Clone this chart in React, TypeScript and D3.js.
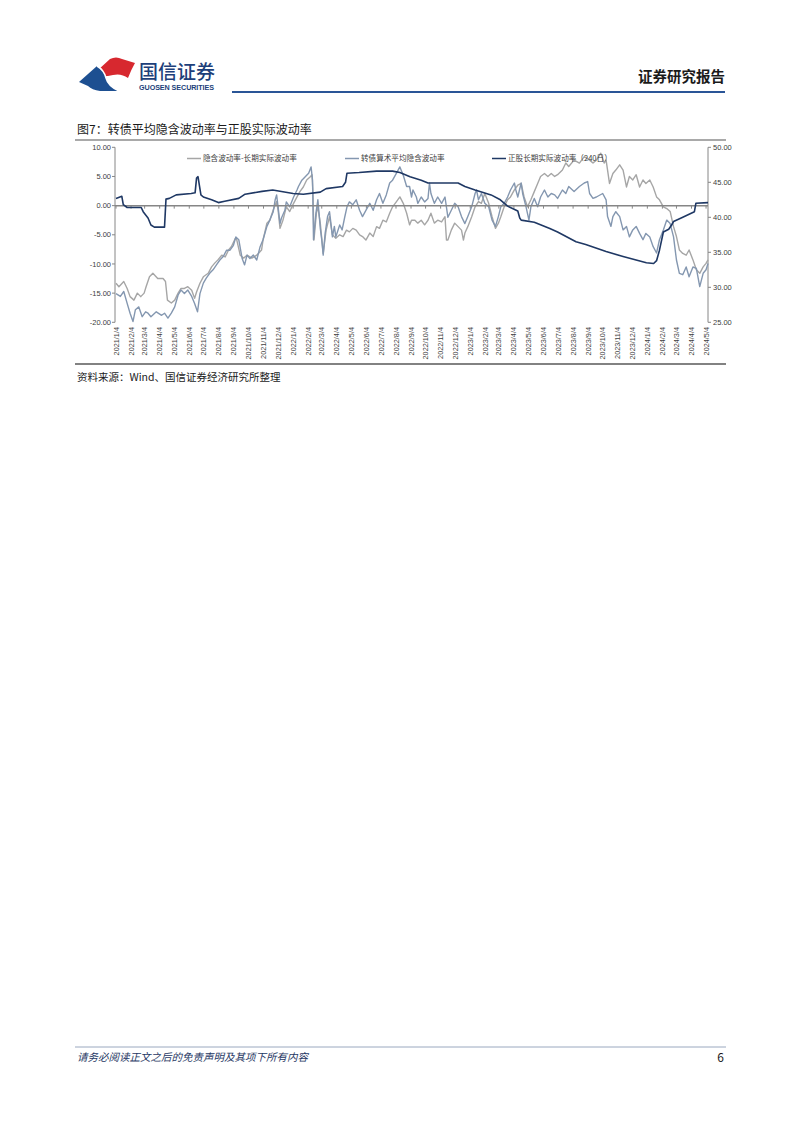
import React from "react";
import * as d3 from "d3";

// ---------- DATA ----------
const xTickLabels = [
  "2021/1/4","2021/2/4","2021/3/4","2021/4/4","2021/5/4","2021/6/4","2021/7/4","2021/8/4","2021/9/4","2021/10/4","2021/11/4","2021/12/4",
  "2022/1/4","2022/2/4","2022/3/4","2022/4/4","2022/5/4","2022/6/4","2022/7/4","2022/8/4","2022/9/4","2022/10/4","2022/11/4","2022/12/4",
  "2023/1/4","2023/2/4","2023/3/4","2023/4/4","2023/5/4","2023/6/4","2023/7/4","2023/8/4","2023/9/4","2023/10/4","2023/11/4","2023/12/4",
  "2024/1/4","2024/2/4","2024/3/4","2024/4/4","2024/5/4",
];
const leftTicks = [10, 5, 0, -5, -10, -15, -20];
const rightTicks = [50, 45, 40, 35, 30, 25];

const seriesNames = ["隐含波动率-长期实际波动率", "转债算术平均隐含波动率", "正股长期实际波动率（240日）"];

// 隐含波动率-长期实际波动率 (left axis)
const spreadSeries: [string, number][] = [
  ["2021-01-04",-13.3],["2021-01-10",-13.9],["2021-01-20",-13.0],["2021-01-27",-14.2],["2021-02-02",-15.6],["2021-02-10",-16.2],
  ["2021-02-17",-15.0],["2021-02-24",-15.6],["2021-03-03",-15.0],["2021-03-07",-13.9],["2021-03-14",-12.2],["2021-03-21",-11.6],
  ["2021-03-31",-12.5],["2021-04-11",-12.5],["2021-04-16",-13.0],["2021-04-20",-16.2],["2021-04-28",-16.7],["2021-05-05",-16.2],
  ["2021-05-12",-15.0],["2021-05-18",-14.2],["2021-05-25",-14.2],["2021-06-01",-13.9],["2021-06-09",-14.5],["2021-06-15",-15.9],
  ["2021-06-19",-14.8],["2021-06-26",-13.3],["2021-07-03",-12.2],["2021-07-13",-11.6],["2021-07-20",-10.5],["2021-07-26",-9.9],
  ["2021-08-02",-9.3],["2021-08-10",-8.5],["2021-08-17",-8.8],["2021-08-24",-7.6],["2021-08-30",-7.0],["2021-09-07",-5.6],
  ["2021-09-10",-5.9],["2021-09-17",-8.5],["2021-09-24",-9.0],["2021-10-01",-8.5],["2021-10-11",-9.0],["2021-10-21",-8.5],
  ["2021-10-31",-7.6],["2021-11-03",-5.9],["2021-11-11",-3.0],["2021-11-17",-2.5],["2021-11-24",-0.75],["2021-12-01",0.7],
  ["2021-12-04",-0.75],["2021-12-08",-3.9],["2021-12-14",-2.5],["2021-12-21",-0.2],["2021-12-28",-1.0],["2022-01-05",0.4],
  ["2022-01-12",1.5],["2022-01-18",2.4],["2022-01-25",3.2],["2022-02-01",4.4],["2022-02-09",5.0],["2022-02-12",5.3],
  ["2022-02-14",2.1],["2022-02-16",-5.9],["2022-02-21",-1.3],["2022-02-24",-0.2],["2022-03-01",-3.0],["2022-03-07",-8.2],
  ["2022-03-13",-4.2],["2022-03-20",-1.9],["2022-03-26",-5.0],["2022-04-02",-5.6],["2022-04-10",-5.0],["2022-04-17",-5.3],
  ["2022-04-24",-4.2],["2022-04-30",-4.5],["2022-05-07",-3.9],["2022-05-14",-4.2],["2022-05-21",-5.0],["2022-05-27",-5.3],
  ["2022-06-03",-5.9],["2022-06-11",-4.7],["2022-06-18",-5.3],["2022-06-25",-3.6],["2022-07-01",-3.9],["2022-07-08",-2.5],
  ["2022-07-15",-2.8],["2022-07-22",-1.3],["2022-07-28",-0.2],["2022-08-05",0.7],["2022-08-12",1.5],["2022-08-19",0.4],
  ["2022-08-26",-1.3],["2022-09-01",-3.3],["2022-09-05",-2.5],["2022-09-12",-2.5],["2022-09-18",-3.0],["2022-09-25",-2.5],
  ["2022-10-02",-3.3],["2022-10-09",-2.5],["2022-10-15",-1.3],["2022-10-22",-3.0],["2022-10-29",-2.5],["2022-11-06",-2.8],
  ["2022-11-13",-1.9],["2022-11-16",-5.9],["2022-11-19",-5.9],["2022-11-26",-4.2],["2022-12-03",-3.0],["2022-12-10",-3.6],
  ["2022-12-17",-4.2],["2022-12-21",-5.9],["2022-12-24",-4.7],["2022-12-30",-3.6],["2023-01-07",-1.9],["2023-01-14",-0.2],
  ["2023-01-21",0.7],["2023-01-27",0.4],["2023-02-03",2.1],["2023-02-11",0.4],["2023-02-18",-1.9],["2023-02-25",-3.9],
  ["2023-03-03",-3.0],["2023-03-08",-1.9],["2023-03-15",-0.2],["2023-03-22",1.0],["2023-03-28",1.5],["2023-04-05",2.7],
  ["2023-04-12",3.5],["2023-04-19",3.8],["2023-04-25",1.5],["2023-05-02",-0.2],["2023-05-09",1.0],["2023-05-16",2.4],
  ["2023-05-23",3.8],["2023-05-29",5.0],["2023-06-06",5.5],["2023-06-13",5.0],["2023-06-20",5.5],["2023-06-27",5.0],
  ["2023-07-03",5.3],["2023-07-13",6.1],["2023-07-20",7.3],["2023-07-26",6.7],["2023-08-06",7.8],["2023-08-17",7.3],
  ["2023-08-27",8.4],["2023-09-07",7.8],["2023-09-14",7.3],["2023-09-21",7.8],["2023-09-30",9.0],["2023-10-07",7.3],
  ["2023-10-11",7.8],["2023-10-18",3.8],["2023-10-25",5.5],["2023-10-31",6.1],["2023-11-08",7.0],["2023-11-15",6.1],
  ["2023-11-22",3.2],["2023-11-28",5.0],["2023-12-05",4.4],["2023-12-12",5.3],["2023-12-19",3.2],["2023-12-26",4.4],
  ["2024-01-01",3.8],["2024-01-09",4.4],["2024-01-16",3.2],["2024-01-23",1.5],["2024-01-29",1.0],["2024-02-06",-0.2],
  ["2024-02-13",-0.5],["2024-02-20",-1.0],["2024-02-27",-3.6],["2024-03-04",-5.3],["2024-03-10",-7.6],["2024-03-17",-8.2],
  ["2024-03-24",-8.5],["2024-03-30",-7.6],["2024-04-07",-9.3],["2024-04-14",-11.0],["2024-04-21",-11.6],["2024-04-28",-10.5],
  ["2024-05-04",-9.9],["2024-05-08",-9.3],
];

// 转债算术平均隐含波动率 (right axis)
const impliedVolSeries: [string, number][] = [
  ["2021-01-04",29.1],["2021-01-13",28.7],["2021-01-20",29.4],["2021-01-27",27.7],["2021-02-02",26.3],["2021-02-08",25.1],
  ["2021-02-13",26.8],["2021-02-20",27.2],["2021-02-27",25.8],["2021-03-06",26.5],["2021-03-11",26.3],["2021-03-17",25.8],
  ["2021-03-28",26.5],["2021-04-08",26.0],["2021-04-14",26.3],["2021-04-21",25.6],["2021-04-28",26.3],["2021-05-05",27.2],
  ["2021-05-12",28.9],["2021-05-18",29.6],["2021-05-25",29.1],["2021-06-01",29.6],["2021-06-09",28.7],["2021-06-15",27.7],
  ["2021-06-21",26.5],["2021-06-26",29.1],["2021-07-03",30.6],["2021-07-09",31.3],["2021-07-16",32.0],["2021-07-23",32.5],
  ["2021-07-30",33.2],["2021-08-06",33.9],["2021-08-13",34.4],["2021-08-20",35.3],["2021-08-27",35.3],["2021-09-03",36.0],
  ["2021-09-08",37.2],["2021-09-14",36.8],["2021-09-21",34.1],["2021-09-26",33.2],["2021-10-01",34.6],["2021-10-07",34.1],
  ["2021-10-14",34.6],["2021-10-21",33.9],["2021-10-28",35.8],["2021-11-03",36.8],["2021-11-11",38.7],["2021-11-17",39.6],
  ["2021-11-24",40.8],["2021-11-28",42.5],["2021-12-01",43.2],["2021-12-04",41.5],["2021-12-08",39.1],["2021-12-11",39.9],
  ["2021-12-18",41.0],["2021-12-21",42.2],["2021-12-28",41.5],["2022-01-05",42.9],["2022-01-12",43.9],["2022-01-15",44.4],
  ["2022-01-22",45.3],["2022-01-29",45.8],["2022-02-05",46.3],["2022-02-10",47.2],["2022-02-13",45.3],["2022-02-15",36.8],
  ["2022-02-20",40.6],["2022-02-24",42.5],["2022-02-27",40.1],["2022-03-01",38.4],["2022-03-04",36.8],["2022-03-07",34.6],
  ["2022-03-11",37.7],["2022-03-16",40.1],["2022-03-20",40.8],["2022-03-23",39.1],["2022-03-26",37.2],["2022-03-30",38.7],
  ["2022-04-02",37.2],["2022-04-10",38.9],["2022-04-15",38.2],["2022-04-20",39.9],["2022-04-25",41.5],["2022-04-30",42.2],
  ["2022-05-07",41.8],["2022-05-14",42.5],["2022-05-21",41.0],["2022-05-27",40.1],["2022-06-03",41.0],["2022-06-11",42.0],
  ["2022-06-18",41.0],["2022-06-25",42.5],["2022-07-01",43.4],["2022-07-08",42.0],["2022-07-15",43.2],["2022-07-22",44.9],
  ["2022-07-28",45.3],["2022-08-05",46.3],["2022-08-12",47.2],["2022-08-19",46.0],["2022-08-26",44.4],["2022-09-01",44.4],
  ["2022-09-05",42.9],["2022-09-08",43.9],["2022-09-15",42.9],["2022-09-18",42.0],["2022-09-25",42.9],["2022-10-02",42.2],
  ["2022-10-09",42.7],["2022-10-12",44.9],["2022-10-15",43.4],["2022-10-22",42.0],["2022-10-29",42.9],["2022-11-06",42.0],
  ["2022-11-13",42.9],["2022-11-19",40.0],["2022-11-26",41.0],["2022-12-03",42.0],["2022-12-10",41.5],["2022-12-17",40.1],
  ["2022-12-24",39.1],["2022-12-30",40.1],["2023-01-07",41.5],["2023-01-14",43.4],["2023-01-17",43.9],["2023-01-21",42.5],
  ["2023-01-27",43.4],["2023-02-03",42.0],["2023-02-11",41.5],["2023-02-18",39.6],["2023-02-25",38.7],["2023-03-03",40.1],
  ["2023-03-08",41.5],["2023-03-15",42.0],["2023-03-22",42.9],["2023-03-28",43.9],["2023-04-05",44.9],["2023-04-08",43.9],
  ["2023-04-12",42.9],["2023-04-19",44.9],["2023-04-22",43.4],["2023-04-29",41.5],["2023-05-05",39.6],["2023-05-09",41.5],
  ["2023-05-16",42.7],["2023-05-23",41.5],["2023-05-29",42.9],["2023-06-06",43.9],["2023-06-13",42.9],["2023-06-20",43.4],
  ["2023-06-27",43.2],["2023-07-03",42.7],["2023-07-13",43.9],["2023-07-20",43.4],["2023-07-26",44.4],["2023-08-06",43.7],
  ["2023-08-17",44.4],["2023-08-27",44.9],["2023-09-03",45.1],["2023-09-07",43.4],["2023-09-14",42.7],["2023-09-21",42.9],
  ["2023-10-04",43.4],["2023-10-11",42.5],["2023-10-14",40.1],["2023-10-21",38.7],["2023-10-25",40.1],["2023-10-31",40.8],
  ["2023-11-08",40.1],["2023-11-15",38.2],["2023-11-22",38.7],["2023-11-28",37.2],["2023-12-05",38.2],["2023-12-12",38.7],
  ["2023-12-19",37.7],["2023-12-26",36.8],["2024-01-01",37.7],["2024-01-09",37.2],["2024-01-16",35.8],["2024-01-23",34.9],
  ["2024-01-29",36.8],["2024-02-06",38.2],["2024-02-13",39.6],["2024-02-20",39.1],["2024-02-27",37.2],["2024-03-04",33.9],
  ["2024-03-10",32.0],["2024-03-17",31.8],["2024-03-24",32.9],["2024-03-30",31.5],["2024-04-07",32.9],["2024-04-14",32.7],
  ["2024-04-21",30.1],["2024-04-28",32.0],["2024-05-04",32.5],["2024-05-08",33.4],
];

// 正股长期实际波动率（240日） (right axis)
const stockVolSeries: [string, number][] = [
  ["2021-01-04",42.7],["2021-01-16",43.0],["2021-01-19",41.8],["2021-01-27",41.4],["2021-02-25",41.4],["2021-03-01",40.8],
  ["2021-03-11",39.9],["2021-03-17",38.9],["2021-03-24",38.6],["2021-04-14",38.6],["2021-04-17",42.6],["2021-04-24",42.7],
  ["2021-05-08",43.2],["2021-06-08",43.4],["2021-06-16",43.5],["2021-06-19",45.6],["2021-06-22",45.8],["2021-06-25",44.5],
  ["2021-06-28",43.2],["2021-07-03",42.9],["2021-07-20",42.5],["2021-08-03",42.1],["2021-08-16",42.3],["2021-09-14",42.7],
  ["2021-09-27",43.3],["2021-11-01",43.7],["2021-11-23",43.9],["2022-01-04",43.4],["2022-01-25",43.3],["2022-03-01",43.6],
  ["2022-03-13",44.1],["2022-04-16",44.4],["2022-04-22",45.0],["2022-04-25",46.3],["2022-05-20",46.4],["2022-06-25",46.6],
  ["2022-07-28",46.6],["2022-08-12",46.4],["2022-09-02",45.8],["2022-09-25",45.3],["2022-10-09",44.9],["2022-12-10",44.9],
  ["2022-12-24",44.4],["2023-01-14",43.9],["2023-02-16",43.2],["2023-03-07",42.5],["2023-03-22",41.6],["2023-04-12",40.9],
  ["2023-04-16",39.9],["2023-04-19",39.6],["2023-05-16",39.3],["2023-06-17",38.4],["2023-07-03",37.9],["2023-08-10",36.5],
  ["2023-08-30",36.1],["2023-10-11",35.1],["2023-11-15",34.4],["2024-01-02",33.5],["2024-01-17",33.4],["2024-01-23",33.8],
  ["2024-01-29",35.3],["2024-02-06",37.9],["2024-02-17",38.3],["2024-02-23",38.9],["2024-02-27",39.4],["2024-03-17",40.0],
  ["2024-04-10",40.8],["2024-04-13",42.0],["2024-05-08",42.1],
];

// ---------- COMPONENT ----------
const parseISO = d3.timeParse("%Y-%m-%d");
const parseSlash = d3.timeParse("%Y/%m/%d");

const FONT = "'Noto Sans CJK SC', 'Liberation Sans', sans-serif";

export default function App() {
  const left = 116, right = 708, top = 147.3, bottom = 322.3;
  const x = d3.scaleTime()
    .domain([parseISO("2021-01-04") as Date, parseISO("2024-05-08") as Date])
    .range([left, right]);
  const yL = d3.scaleLinear().domain([-20, 10]).range([bottom, top]);
  const yR = d3.scaleLinear().domain([25, 50]).range([bottom, top]);

  const lineL = d3.line<[string, number]>()
    .x((d) => x(parseISO(d[0]) as Date))
    .y((d) => yL(d[1]));
  const lineR = d3.line<[string, number]>()
    .x((d) => x(parseISO(d[0]) as Date))
    .y((d) => yR(d[1]));

  const colors = ["#a6a6a6", "#8497b0", "#1f3864"];
  const axisColor = "#868686";
  const textColor = "#404040";
  const zeroY = yL(0);
  const axisLeftX = 115;

  const legendItems = [
    { x: 187, name: seriesNames[0], color: colors[0] },
    { x: 345, name: seriesNames[1], color: colors[1] },
    { x: 492, name: seriesNames[2], color: colors[2] },
  ];

  return (
    <div style={{ position: "absolute", left: 0, top: 0 }}>
      <svg width={802} height={1133} style={{ display: "block", background: "#fff" }} fontFamily={FONT}>
        {/* header logo */}
        <path d="M98,70 L110,59 Q116,56 122,59 L135,63 Q131,70 128,78 Q121,73 113,75 Q105,77 100,76 Z" fill="#d7282f" />
        <path d="M79,82 L97,66 Q104,70 106,78 Q108,86 119,91 L100,91 Q92,90 88,86 Z" fill="#1d4f91" />
        <path d="M97,66 Q104,70 106,78 Q108,86 119,91" fill="none" stroke="#fff" strokeWidth={1.5} />
        <text x={139} y={79} fontSize={19} fill="#1d3f7a" fontWeight={500}>国信证券</text>
        <text x={139} y={90} fontSize={7.2} fill="#1d3f7a" fontWeight={700} fontFamily="'Liberation Sans Narrow', 'Liberation Sans', sans-serif" textLength={75}>GUOSEN SECURITIES</text>
        <text x={725} y={82} fontSize={14.5} fill="#1a1a1a" fontWeight={700} textAnchor="end">证券研究报告</text>
        <line x1={232} x2={725} y1={92} y2={92} stroke="#2a5597" strokeWidth={2.2} />

        {/* title */}
        <text x={77} y={134} fontSize={12} fill="#1a1a1a">图7：转债平均隐含波动率与正股实际波动率</text>
        <line x1={75} x2={726} y1={140} y2={140} stroke="#8c8c8c" strokeWidth={1.3} />

        {/* axes */}
        <line x1={axisLeftX} x2={axisLeftX} y1={top} y2={bottom} stroke={axisColor} strokeWidth={1} />
        <line x1={right} x2={right} y1={top} y2={bottom} stroke={axisColor} strokeWidth={1} />
        {leftTicks.map((t) => (
          <g key={"l" + t}>
            <line x1={axisLeftX - 3} x2={axisLeftX} y1={yL(t)} y2={yL(t)} stroke={axisColor} />
            <text x={111} y={yL(t)} dy="0.35em" fontSize={7.5} fill={textColor} textAnchor="end" fontFamily="'Liberation Sans', sans-serif">{t.toFixed(2)}</text>
          </g>
        ))}
        {rightTicks.map((t) => (
          <g key={"r" + t}>
            <line x1={right} x2={right + 3} y1={yR(t)} y2={yR(t)} stroke={axisColor} />
            <text x={713} y={yR(t)} dy="0.35em" fontSize={7.5} fill={textColor} fontFamily="'Liberation Sans', sans-serif">{t.toFixed(2)}</text>
          </g>
        ))}
        {xTickLabels.map((lab) => {
          const px = x(parseSlash(lab) as Date);
          return (
            <g key={lab}>
              <line x1={px} x2={px} y1={zeroY} y2={zeroY + 3} stroke={axisColor} />
              <text transform={`translate(${px},327) rotate(-90)`} dy="0.35em" fontSize={7.3} fill={textColor} textAnchor="end" fontFamily="'Liberation Sans', sans-serif">{lab}</text>
            </g>
          );
        })}

        {/* series */}
        <path d={lineL(spreadSeries) || ""} fill="none" stroke={colors[0]} strokeWidth={1.4} strokeLinejoin="round" />
        <path d={lineR(impliedVolSeries) || ""} fill="none" stroke={colors[1]} strokeWidth={1.4} strokeLinejoin="round" />
        <line x1={axisLeftX} x2={right} y1={zeroY} y2={zeroY} stroke={axisColor} strokeWidth={1.5} />
        <path d={lineR(stockVolSeries) || ""} fill="none" stroke={colors[2]} strokeWidth={1.6} strokeLinejoin="round" />

        {/* legend */}
        {legendItems.map((it) => (
          <g key={it.name}>
            <line x1={it.x} x2={it.x + 14} y1={158.5} y2={158.5} stroke={it.color} strokeWidth={1.5} />
            <text x={it.x + 16} y={158.5} dy="0.35em" fontSize={7.6} fill={textColor}>{it.name}</text>
          </g>
        ))}

        {/* bottom border and source */}
        <line x1={75} x2={726} y1={364} y2={364} stroke="#595959" strokeWidth={1.5} />
        <text x={77} y={381} fontSize={10.5} fill="#1a1a1a">资料来源：Wind、国信证券经济研究所整理</text>

        {/* footer */}
        <line x1={75} x2={726} y1={1047} y2={1047} stroke="#9aa8bf" strokeWidth={1} />
        <text x={77} y={1061} fontSize={10.5} fill="#1f3864" fontStyle="italic">请务必阅读正文之后的免责声明及其项下所有内容</text>
        <text x={724} y={1062} fontSize={12} fill="#1a1a1a" textAnchor="end">6</text>
      </svg>
    </div>
  );
}
